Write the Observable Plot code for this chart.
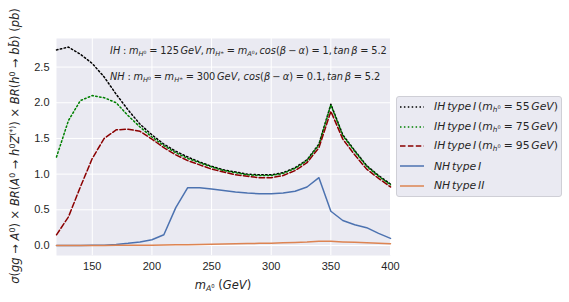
<!DOCTYPE html>
<html><head><meta charset="utf-8">
<script src="https://cdn.jsdelivr.net/npm/d3@7"></script>
<script src="https://cdn.jsdelivr.net/npm/@observablehq/plot@0.6"></script>
<style>
body{margin:0;background:#fff;}
#wrap{position:relative;width:569px;height:302px;font-family:"DejaVu Sans";color:#262626;}
#wrap > svg{position:absolute;left:0;top:0;}
.ov{position:absolute;white-space:nowrap;line-height:1;}
.i{font-style:italic;}
.sb{font-size:68%;vertical-align:-0.3em;}
.sp{font-size:68%;vertical-align:0.55em;}
.rel{margin:0 0.28em;}
.bin{margin:0 0.22em;}
.th{display:inline-block;width:0.17em;}
#legend{position:absolute;left:396px;top:96px;width:166px;height:101px;background:#EAEAF2;border:1px solid #cfcfd6;border-radius:3px;box-sizing:border-box;}
.row{position:absolute;left:0;height:16px;display:flex;align-items:center;white-space:nowrap;}
.row svg{margin-left:3px;margin-right:10px;}
.row span.t{font-size:10.8px;}
</style>
</head><body>
<div id="wrap"></div>
<script>
const mass = [120,130,140,150,160,170,180,190,200,210,220,230,240,250,260,270,280,290,300,310,320,330,340,350,360,370,380,390,400];
const ih55 = [2.74,2.78,2.68,2.55,2.36,2.12,1.90,1.70,1.55,1.42,1.32,1.24,1.17,1.11,1.06,1.03,1.00,0.99,0.99,1.02,1.09,1.20,1.42,1.98,1.55,1.33,1.12,0.98,0.86];
const ih75 = [1.24,1.75,2.03,2.10,2.07,2.00,1.82,1.66,1.52,1.40,1.30,1.22,1.16,1.10,1.05,1.02,0.99,0.98,0.98,1.01,1.08,1.19,1.41,1.97,1.54,1.32,1.11,0.97,0.85];
const ih95 = [0.15,0.40,0.82,1.22,1.50,1.62,1.63,1.60,1.49,1.37,1.27,1.19,1.13,1.07,1.03,0.99,0.97,0.95,0.95,0.98,1.05,1.16,1.37,1.88,1.49,1.27,1.07,0.94,0.82];
const nh1 = [0.0,0.0,0.0,0.002,0.005,0.015,0.03,0.05,0.08,0.15,0.53,0.81,0.81,0.79,0.77,0.75,0.735,0.725,0.725,0.735,0.76,0.82,0.95,0.48,0.35,0.29,0.25,0.17,0.10];
const nh2 = [0,0,0,0,0.001,0.002,0.003,0.004,0.005,0.007,0.009,0.012,0.015,0.018,0.021,0.024,0.027,0.030,0.033,0.037,0.042,0.048,0.060,0.058,0.050,0.045,0.040,0.033,0.025];
const xTicks = [150,200,250,300,350,400];
const yTicks = [0,0.5,1.0,1.5,2.0,2.5];

const series = [
  {key:"ih55", vals: ih55, stroke:"#000000", dash:"1.5,2.4"},
  {key:"ih75", vals: ih75, stroke:"#008000", dash:"1.5,2.4"},
  {key:"ih95", vals: ih95, stroke:"#8B0000", dash:"5.5,2.4"},
  {key:"nh1", vals: nh1, stroke:"#4C72B0", dash:null},
  {key:"nh2", vals: nh2, stroke:"#DD8452", dash:null}
];
const tbl = s => mass.map((m,i)=>({m, v:s.vals[i]}));

const chart = Plot.plot({
  width:569, height:302,
  marginLeft:56, marginRight:179, marginTop:38, marginBottom:47,
  style:{fontFamily:"Liberation Sans", fontSize:"11px", color:"#262626", background:"transparent"},
  x:{domain:[120,400]},
  y:{domain:[-0.14,2.9]},
  marks:[
    Plot.frame({fill:"#EAEAF2", stroke:null}),
    Plot.gridX(xTicks,{stroke:"white", strokeOpacity:1, strokeWidth:1}),
    Plot.gridY(yTicks,{stroke:"white", strokeOpacity:1, strokeWidth:1}),
    ...series.map(s => Plot.line(tbl(s), {x:"m", y:"v", stroke:s.stroke, strokeWidth:1.5, strokeDasharray:s.dash})),
    Plot.axisX({ticks:xTicks, tickSize:0, tickPadding:7, label:null}),
    Plot.axisY({ticks:yTicks, tickSize:0, tickPadding:7, tickFormat:d3.format(".1f"), label:null})
  ]
});
const wrap = document.getElementById("wrap");
wrap.appendChild(chart);

function ov(html, style){
  const d = document.createElement("div");
  d.className = "ov";
  d.innerHTML = html;
  Object.assign(d.style, style);
  wrap.appendChild(d);
  return d;
}
const I = s => `<span class="i">${s}</span>`;
const sub = s => `<span class="sb">${s}</span>`;
const sup = s => `<span class="sp">${s}</span>`;
const rel = s => `<span class="rel">${s}</span>`;
const bin = s => `<span class="bin">${s}</span>`;
const th = `<span class="th"></span>`;
const mH0 = I("m") + sub(I("H") + sup("0"));
const mHpm = I("m") + sub(I("H") + sup("±"));
const mA0 = I("m") + sub(I("A") + sup("0"));
const mh0 = I("m") + sub(I("h") + sup("0"));

ov(I("IH") + rel(":") + mH0 + rel("=") + "125" + th + I("GeV") + "," + th + mHpm + rel("=") + mA0 + "," + th +
   I("cos") + "(" + I("β") + bin("−") + I("α") + ")" + rel("=") + "1," + th + I("tan") + th + I("β") + rel("=") + "5.2",
  {left:"110px", top:"46px", fontSize:"9.8px"});
ov(I("NH") + rel(":") + mH0 + rel("=") + mHpm + rel("=") + "300" + th + I("GeV") + ", " +
   I("cos") + "(" + I("β") + bin("−") + I("α") + ")" + rel("=") + "0.1," + th + I("tan") + th + I("β") + rel("=") + "5.2",
  {left:"110px", top:"72px", fontSize:"9.8px"});

// x label
ov(`${mA0} (${I("GeV")})`, {left:"223px", top:"280px", fontSize:"11.5px", transform:"translateX(-50%)"});
// y label
ov(`${I("σ")}(${I("gg")} → ${I("A")}${sup("0")}) × ${I("BR")}(${I("A")}${sup("0")} → ${I("h")}${sup("0")}${I("Z")}${sup("(*)")}) × ${I("BR")}(${I("h")}${sup("0")} → ${I("b")}${I("b̄")}) (${I("pb")})`,
  {left:"15px", top:"146px", fontSize:"11.5px", transform:"translate(-50%,-50%) rotate(-90deg)"});

// legend
const leg = document.createElement("div");
leg.id = "legend";
wrap.appendChild(leg);
const ihLabel = v => I("IH") + th + I("type") + th + I("I") + th + "(" + mh0 + rel("=") + v + th + I("GeV") + ")";
const legItems = [
  {s:series[0], html: ihLabel("55")},
  {s:series[1], html: ihLabel("75")},
  {s:series[2], html: ihLabel("95")},
  {s:series[3], html: I("NH") + th + I("type") + th + I("I")},
  {s:series[4], html: I("NH") + th + I("type") + th + I("II")}
];
legItems.forEach((it,k)=>{
  const r = document.createElement("div");
  r.className = "row";
  r.style.top = (2 + k*19.7) + "px";
  r.innerHTML = `<svg width="24" height="10"><line x1="0" x2="24" y1="5" y2="5" stroke="${it.s.stroke}" stroke-width="1.5" ${it.s.dash?`stroke-dasharray="${it.s.dash}"`:""}/></svg><span class="t">${it.html}</span>`;
  leg.appendChild(r);
});
</script>
</body></html>
